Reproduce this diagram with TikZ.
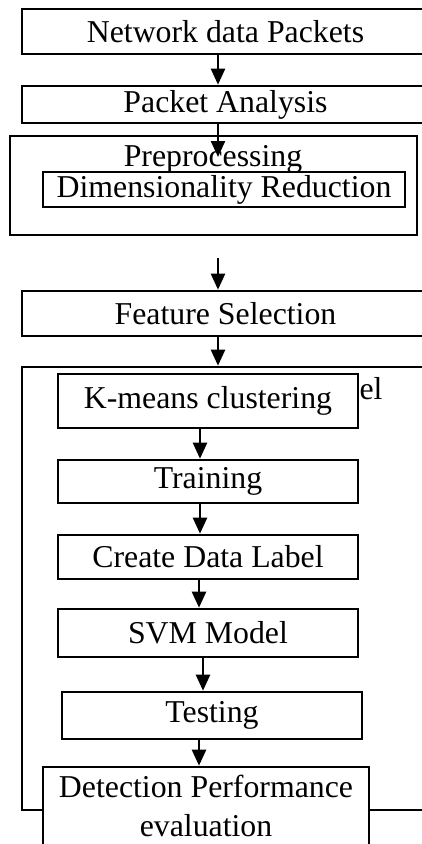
\documentclass[tikz,border=0pt]{standalone}
\usepackage{fontspec}
\setmainfont{Liberation Serif}
\usetikzlibrary{arrows.meta}
\begin{document}
\begin{tikzpicture}[x=1pt,y=-1pt,
 box/.style={draw, line width=2.6pt, fill=white, inner sep=0pt, font=\fontsize{31.8}{39}\selectfont, align=center},
 frame/.style={draw, line width=2.6pt, inner sep=0pt},
 arr/.style={line width=2.4pt, -{Triangle[length=16pt,width=14pt]}},
 lbl/.style={inner sep=0pt, font=\fontsize{31.8}{39}\selectfont, align=center}]
\useasboundingbox (0,0) rectangle (422,844);
\clip (0,0) rectangle (422,844);
\fill[white] (0,0) rectangle (422,844);
% top part
\node[box, minimum width=407, minimum height=45] (net) at (225.5,31.5) {Network data Packets};
\node[box, minimum width=407, minimum height=37] (pa) at (225.5,104.5) {Packet Analysis};
\node[frame, minimum width=407, minimum height=99] (pre) at (213.5,185.5) {};
\node[lbl] (pretxt) at (213,159) {Preprocessing};
\node[box, minimum width=362, minimum height=35] (dim) at (224,189.5) {Dimensionality Reduction};
\node[box, minimum width=407, minimum height=45] (fs) at (225.5,313.5) {Feature Selection};
% model part
\node[frame, minimum width=407, minimum height=443] (model) at (225.5,588.5) {};
\node[lbl] (el) at (371,389) {el};
\node[box, minimum width=300, minimum height=54] (km) at (208,401) {K-means clustering};
\node[box, minimum width=300, minimum height=43] (tr) at (208,481.5) {Training};
\node[box, minimum width=300, minimum height=44] (cdl) at (208,557) {Create Data Label};
\node[box, minimum width=300, minimum height=48] (svm) at (208,633) {SVM Model};
\node[box, minimum width=300, minimum height=47] (te) at (212,715.5) {Testing};
\node[box, minimum width=326, minimum height=83] (det) at (206,808.5) {};
\node[lbl] (dettxt) at (206,806) {Detection Performance\\evaluation};
% arrows
\coordinate (ca) at (218,0);
\coordinate (a2) at (218,157);
\coordinate (a3) at (218,258);
\coordinate (cb) at (200,0);
\coordinate (cc) at (199,0);
\coordinate (cd) at (203,0);
\draw[arr] (net.south -| ca) -- (pa.north -| ca);
\draw[arr] (pa.south -| ca) -- (a2);
\draw[arr] (a3) -- (fs.north -| ca);
\draw[arr] (fs.south -| ca) -- (model.north -| ca);
\draw[arr] (km.south -| cb) -- (tr.north -| cb);
\draw[arr] (tr.south -| cb) -- (cdl.north -| cb);
\draw[arr] (cdl.south -| cc) -- (svm.north -| cc);
\draw[arr] (svm.south -| cd) -- (te.north -| cd);
\draw[arr] (te.south -| cc) -- (det.north -| cc);
\end{tikzpicture}
\end{document}
